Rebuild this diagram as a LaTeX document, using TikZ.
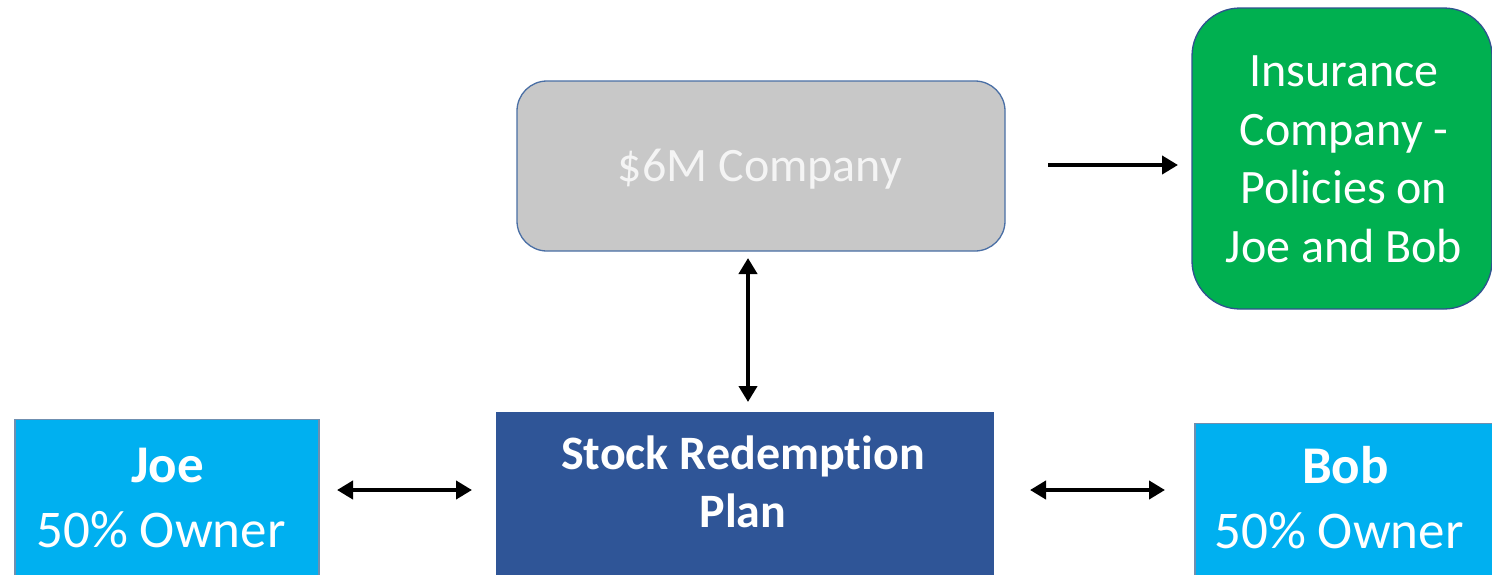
\documentclass[tikz,border=0pt]{standalone}
\usepackage{fontspec}
\setmainfont{Carlito}[Ligatures={NoCommon}]
\usetikzlibrary{arrows.meta}
\definecolor{cgray}{HTML}{C8C8C8}
\definecolor{cborder}{HTML}{4A6FA5}
\definecolor{igreen}{HTML}{00B050}
\definecolor{iborder}{HTML}{2F528F}
\definecolor{pblue}{HTML}{00B0F0}
\definecolor{pborder}{HTML}{6F8FB0}
\definecolor{sblue}{HTML}{2F5597}
\definecolor{ctext}{HTML}{F4F4F4}
\tikzset{
  box/.style={draw, line width=1.3pt, inner sep=0pt},
  lbl/.style={align=center, inner sep=0pt, font=\fontsize{48}{58.5}\selectfont, text=white},
  conn/.style={line width=4pt, -{Triangle[length=16pt,width=18pt]}},
  dconn/.style={line width=4pt, {Triangle[length=16pt,width=18pt]}-{Triangle[length=16pt,width=18pt]}},
}
\begin{document}
\begin{tikzpicture}[x=1pt,y=-1pt]
\clip (0,0) rectangle (1492,574);
\fill[white] (0,0) rectangle (1492,574);
% boxes
\node[box, draw=cborder, fill=cgray, rounded corners=30pt, minimum width=488pt, minimum height=170pt] (company) at (761,166) {};
\node[box, draw=iborder, fill=igreen, rounded corners=48pt, minimum width=300pt, minimum height=301pt] (insurance) at (1342,158.5) {};
\node[box, draw=pborder, fill=pblue, minimum width=304pt, minimum height=220pt, anchor=north] (joe) at (167,419) {};
\node[box, draw=sblue, fill=sblue, minimum width=496pt, minimum height=220pt, anchor=north] (stock) at (745,412) {};
\node[box, draw=pborder, fill=pblue, minimum width=304pt, minimum height=220pt, anchor=north] (bob) at (1347,423) {};
% texts
\node[lbl, text=ctext] (companytext) at (760,169) {\$6M Company};
\node[lbl] (insurancetext) at (1344,159.5) {Insurance\\Company -\\Policies on\\Joe and Bob};
\node[lbl, font=\fontsize{53}{65}\selectfont] (joetext) at (161,498) {\kern13pt\textbf{Joe}\\50\% Owner};
\node[lbl] (stocktext) at (743,482) {\textbf{Stock Redemption}\\\textbf{Plan}};
\node[lbl, font=\fontsize{53}{65}\selectfont] (bobtext) at (1339,498) {\kern13pt\textbf{Bob}\\50\% Owner};
% connectors
\coordinate (a1) at (1048,165);
\coordinate (a2) at (1178,165);
\draw[conn] (a1) -- (a2);
\coordinate (v1) at (748,258);
\coordinate (v2) at (748,402);
\draw[dconn] (v1) -- (v2);
\coordinate (l1) at (337,490);
\coordinate (l2) at (472,490);
\draw[dconn] (l1) -- (l2);
\coordinate (r1) at (1030,490);
\coordinate (r2) at (1165,490);
\draw[dconn] (r1) -- (r2);
\end{tikzpicture}
\end{document}
